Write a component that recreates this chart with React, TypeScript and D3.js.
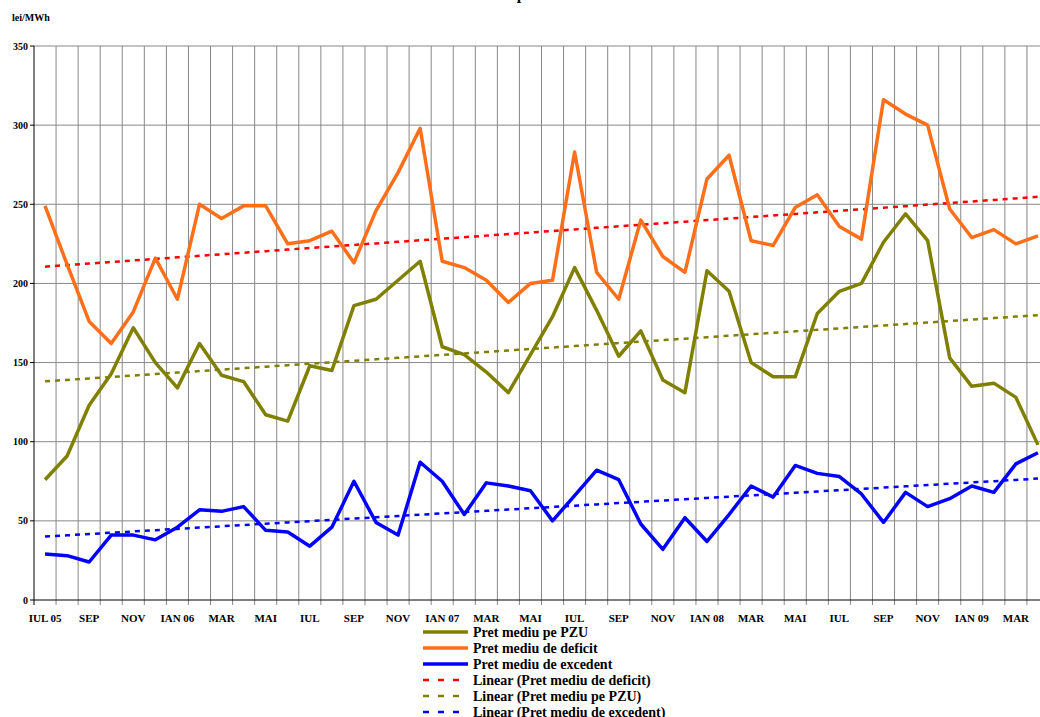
import React, { useEffect, useRef } from 'react';
import * as d3 from 'd3';

const tickLabels = ['IUL 05', 'SEP', 'NOV', 'IAN 06', 'MAR', 'MAI', 'IUL', 'SEP', 'NOV', 'IAN 07', 'MAR', 'MAI', 'IUL', 'SEP', 'NOV', 'IAN 08', 'MAR', 'MAI', 'IUL', 'SEP', 'NOV', 'IAN 09', 'MAR'];

const deficit = [249, 212, 176, 162, 182, 216, 190, 250, 241, 249, 249, 225, 227, 233, 213, 246, 270, 298, 214, 210, 202, 188, 200, 202, 283, 207, 190, 240, 217, 207, 266, 281, 227, 224, 248, 256, 236, 228, 316, 307, 300, 247, 229, 234, 225, 230];
const pzu = [76, 91, 123, 143, 172, 150, 134, 162, 142, 138, 117, 113, 148, 145, 186, 190, 202, 214, 160, 155, 144, 131, 155, 179, 210, 183, 154, 170, 139, 131, 208, 195, 150, 141, 141, 181, 195, 200, 226, 244, 227, 153, 135, 137, 128, 98];
const excedent = [29, 28, 24, 41, 41, 38, 46, 57, 56, 59, 44, 43, 34, 46, 75, 49, 41, 87, 75, 54, 74, 72, 69, 50, 66, 82, 76, 48, 32, 52, 37, 54, 72, 65, 85, 80, 78, 67, 49, 68, 59, 64, 72, 68, 86, 93];

const yTicks = [0, 50, 100, 150, 200, 250, 300, 350];

const OLIVE = '#808000';
const ORANGE = '#ff6f1a';
const BLUE = '#0000ff';

const App = () => {
  const ref = useRef<SVGSVGElement>(null);

  useEffect(() => {
    const left = 34, right = 1049, top = 46, bottom = 600;
    const n = deficit.length;
    const svg = d3.select(ref.current);
    svg.selectAll('*').remove();

    const x = d3.scaleBand<number>().domain(d3.range(n)).range([left, right]);
    const y = d3.scaleLinear().domain([0, 350]).range([bottom, top]);
    const cx = (i: number) => (x(i) as number) + x.bandwidth() / 2;

    // grid
    const g = svg.append('g');
    g.selectAll('.hg').data(yTicks.slice(1)).join('line')
      .attr('x1', left).attr('x2', right)
      .attr('y1', d => y(d)).attr('y2', d => y(d))
      .attr('stroke', '#888').attr('stroke-width', 1);
    g.selectAll('.vg').data(d3.range(1, n + 1)).join('line')
      .attr('x1', i => left + i * x.bandwidth()).attr('x2', i => left + i * x.bandwidth())
      .attr('y1', top).attr('y2', bottom + 5)
      .attr('stroke', '#888').attr('stroke-width', 1);
    g.append('line').attr('x1', left).attr('x2', left).attr('y1', top).attr('y2', bottom + 5).attr('stroke', '#000');
    g.append('line').attr('x1', left).attr('x2', right).attr('y1', bottom).attr('y2', bottom).attr('stroke', '#000');
    g.selectAll('.yt').data(yTicks).join('line')
      .attr('x1', left - 4).attr('x2', left).attr('y1', d => y(d)).attr('y2', d => y(d)).attr('stroke', '#000');

    const font = 'Liberation Serif, Times New Roman, serif';
    g.selectAll('.yl').data(yTicks).join('text')
      .attr('x', left - 6).attr('y', d => y(d) + 3.5)
      .attr('text-anchor', 'end').attr('font-size', 10).attr('font-weight', 'bold').attr('font-family', font)
      .text(d => d);
    g.selectAll('.xl').data(tickLabels).join('text')
      .attr('x', (_, i) => cx(i * 2)).attr('y', bottom + 22)
      .attr('text-anchor', 'middle').attr('font-size', 11).attr('font-weight', 'bold').attr('font-family', font)
      .text(d => d);
    svg.append('text').attr('x', 12).attr('y', 21).attr('font-size', 10).attr('font-weight', 'bold')
      .attr('font-family', font).text('lei/MWh');
    svg.append('text').attr('x', 520).attr('y', -1).attr('text-anchor', 'middle').attr('font-size', 16)
      .attr('font-weight', 'bold').attr('font-family', font).text('Evolutia preturilor');

    // trend lines
    const trend = (vals: number[]) => {
      const mx = d3.mean(d3.range(n)) as number;
      const my = d3.mean(vals) as number;
      const b = d3.sum(vals, (v, i) => (i - mx) * (v - my)) / d3.sum(d3.range(n), i => (i - mx) ** 2);
      return d3.range(n).map(i => my + b * (i - mx));
    };
    const line = d3.line<number>().x((_, i) => cx(i)).y(d => y(d));
    const trends: [number[], string][] = [[deficit, '#ff0000'], [pzu, OLIVE], [excedent, BLUE]];
    trends.forEach(([v, c]) => {
      svg.append('path').attr('d', line(trend(v))).attr('fill', 'none')
        .attr('stroke', c).attr('stroke-width', 2.5).attr('stroke-dasharray', '5,5');
    });
    const series: [number[], string][] = [[deficit, ORANGE], [pzu, OLIVE], [excedent, BLUE]];
    series.forEach(([v, c]) => {
      svg.append('path').attr('d', line(v)).attr('fill', 'none')
        .attr('stroke', c).attr('stroke-width', 3.5).attr('stroke-linejoin', 'round');
    });

    // legend
    const legend: [string, string, boolean][] = [
      ['Pret mediu pe PZU', OLIVE, false],
      ['Pret mediu de deficit', ORANGE, false],
      ['Pret mediu de excedent', BLUE, false],
      ['Linear (Pret mediu de deficit)', '#ff0000', true],
      ['Linear (Pret mediu pe PZU)', OLIVE, true],
      ['Linear (Pret mediu de excedent)', BLUE, true],
    ];
    const lg = svg.append('g');
    legend.forEach(([t, c, dash], i) => {
      const yy = 632 + i * 16;
      lg.append('line').attr('x1', 423).attr('x2', 468).attr('y1', yy).attr('y2', yy)
        .attr('stroke', c).attr('stroke-width', dash ? 2.5 : 3.5)
        .attr('stroke-dasharray', dash ? '6,9' : null);
      lg.append('text').attr('x', 473).attr('y', yy + 5).attr('font-size', 14).attr('font-weight', 'bold')
        .attr('font-family', font).text(t);
    });
  }, []);

  return <svg ref={ref} width={1040} height={717} style={{ position: 'absolute', left: 0, top: 0, background: '#fff' }} />;
};

export default App;
